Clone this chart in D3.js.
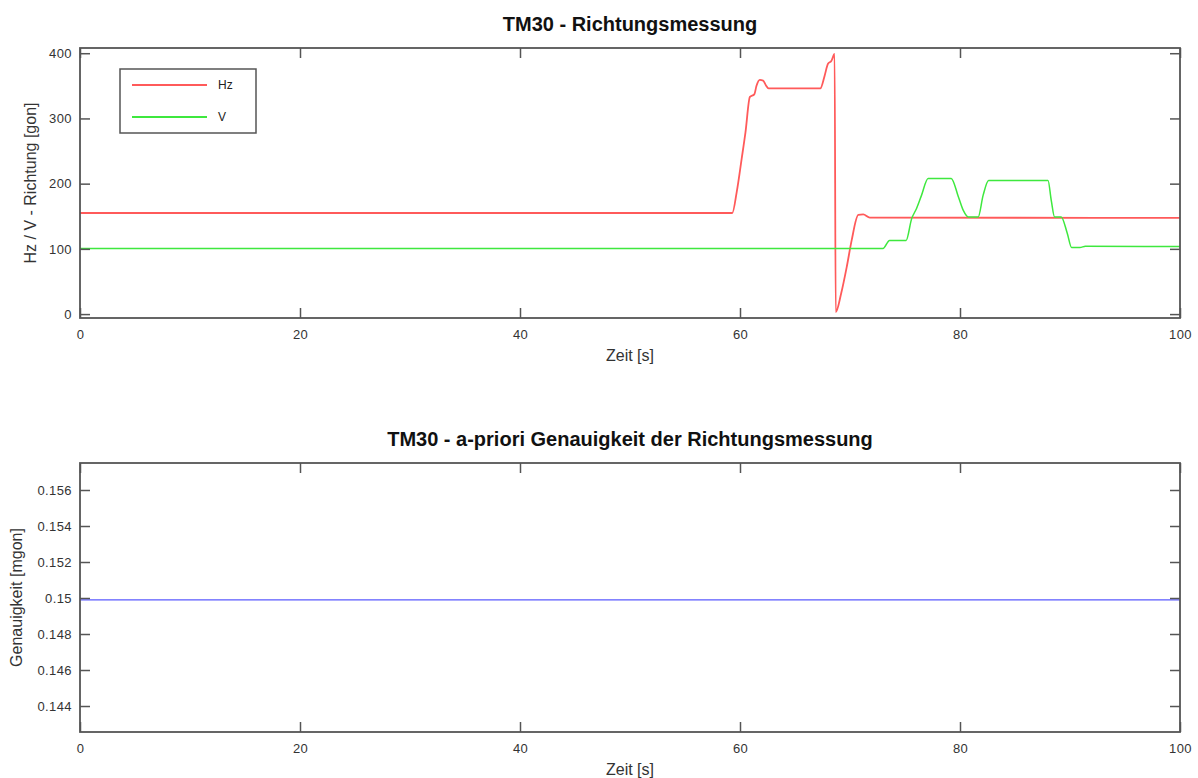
<!DOCTYPE html>
<html>
  <head>
    <meta charset="utf-8">
    <title>TM30 - Richtungsmessung</title>
    <script src="https://d3js.org/d3.v7.min.js"></script>
    <style>
      body { margin: 0; background: #fff; }
      svg { font-family: "Liberation Sans", Arial, sans-serif; }
      .tick text { fill: #333; font-size: 13px; letter-spacing: 0.4px; }
      .tick line { stroke: #555; stroke-width: 1.5; }
      .domain { display: none; }
    </style>
  </head>
  <body>
  <svg id="chart" width="1198" height="778"></svg>
  <script>
    // Richtungsmessung (Zeit [s] -> Richtung [gon])
    var hzTime  = [0, 59.3, 59.7, 60.15, 60.5, 60.9, 61.3, 61.5, 61.8, 62.1, 62.35, 62.6, 67.3, 67.7, 68.0, 68.3, 68.6, 68.7, 69.2, 69.7, 70.15, 70.75, 71.2, 71.8, 100];
    var hzValue = [155, 155, 187, 238, 279, 333, 337, 350, 359, 358, 351, 346, 346, 366, 384, 388, 399, 3, 32, 72, 113, 152, 153, 148, 147.5];

    var vTime  = [0, 73.0, 73.6, 75.1, 75.6, 76.05, 76.5, 77.1, 79.2, 79.85, 80.3, 80.75, 81.65, 82.1, 82.6, 88.0, 88.3, 88.6, 89.2, 89.75, 90.15, 90.9, 91.4, 100];
    var vValue = [100.5, 100.5, 113, 113, 146, 162, 182, 208, 208, 180, 159, 149, 149, 182, 205, 205, 174, 149, 149, 124, 102, 102, 104, 103.5];

    // a-priori Genauigkeit [mgon]
    var accTime  = [0, 100];
    var accValue = [0.1499, 0.1499];

    var xTicks = [0, 20, 40, 60, 80, 100];
    var yTicksTop = [0, 100, 200, 300, 400];
    var yTicksBottom = [0.144, 0.146, 0.148, 0.15, 0.152, 0.154, 0.156];

    var legendNames = ["Hz", "V"];
    var colors = { Hz: "#ff5a5a", V: "#3ee83e", acc: "#5a5aff" };

    var svg = d3.select("#chart");
    var left = 80, right = 1180;

    function drawPanel(opt) {
      var x = d3.scaleLinear().domain([0, 100]).range([left, right]);
      var y = d3.scaleLinear().domain(opt.yDomain).range([opt.bottom, opt.top]);
      var g = svg.append("g");

      // Linien
      opt.series.forEach(function (s) {
        var pts = s.t.map(function (t, i) { return [t, s.v[i]]; });
        g.append("path")
          .attr("d", d3.line().x(function (d) { return x(d[0]); }).y(function (d) { return y(d[1]); })
                  .curve(d3.curveMonotoneX)(pts))
          .attr("fill", "none")
          .attr("stroke", s.color)
          .attr("stroke-width", s.width);
      });

      // Achsen mit nach innen zeigenden Ticks
      g.append("g").attr("transform", `translate(0,${opt.bottom})`)
        .call(d3.axisBottom(x).tickValues(xTicks).tickSize(-10).tickPadding(12));
      g.append("g").attr("transform", `translate(0,${opt.top})`)
        .call(d3.axisTop(x).tickValues(xTicks).tickSize(-10).tickFormat(""));
      g.append("g").attr("transform", `translate(${left},0)`)
        .call(d3.axisLeft(y).tickValues(opt.yTicks).tickSize(-10).tickPadding(8).tickFormat(opt.fmt));
      g.append("g").attr("transform", `translate(${right},0)`)
        .call(d3.axisRight(y).tickValues(opt.yTicks).tickSize(-10).tickFormat(""));

      g.append("rect")
        .attr("x", left).attr("y", opt.top)
        .attr("width", right - left).attr("height", opt.bottom - opt.top)
        .attr("fill", "none").attr("stroke", "#555").attr("stroke-width", 1.8);

      g.append("text")
        .attr("x", (left + right) / 2).attr("y", opt.top - 17)
        .attr("text-anchor", "middle")
        .style("font-size", "20px").style("font-weight", "bold").attr("fill", "#111")
        .text(opt.title);

      g.append("text")
        .attr("x", (left + right) / 2).attr("y", opt.bottom + 43)
        .attr("text-anchor", "middle")
        .style("font-size", "16px").attr("fill", "#333")
        .text("Zeit [s]");

      g.append("text")
        .attr("transform", `translate(${opt.ylabelX},${(opt.top + opt.bottom) / 2}) rotate(-90)`)
        .attr("text-anchor", "middle")
        .style("font-size", "16px").attr("fill", "#333")
        .text(opt.ylabel);
    }

    drawPanel({
      top: 48, bottom: 318, yDomain: [-6, 408], yTicks: yTicksTop,
      fmt: d3.format("d"),
      title: "TM30 - Richtungsmessung",
      ylabel: "Hz / V - Richtung [gon]", ylabelX: 36,
      series: [
        { t: hzTime, v: hzValue, color: colors.Hz, width: 1.8 },
        { t: vTime, v: vValue, color: colors.V, width: 1.5 }
      ]
    });

    drawPanel({
      top: 463, bottom: 732, yDomain: [0.142556, 0.1575], yTicks: yTicksBottom,
      fmt: d3.format(".3~f"),
      title: "TM30 - a-priori Genauigkeit der Richtungsmessung",
      ylabel: "Genauigkeit [mgon]", ylabelX: 22,
      series: [
        { t: accTime, v: accValue, color: colors.acc, width: 1.2 }
      ]
    });

    // Legende
    var legend = svg.append("g");
    legend.append("rect")
      .attr("x", 120).attr("y", 69).attr("width", 136).attr("height", 64)
      .attr("fill", "#fff").attr("stroke", "#555").attr("stroke-width", 1.5);
    legendNames.forEach(function (name, i) {
      var ly = 85 + i * 32;
      legend.append("line")
        .attr("x1", 132).attr("x2", 207).attr("y1", ly).attr("y2", ly)
        .attr("stroke", colors[name]).attr("stroke-width", 1.8);
      legend.append("text")
        .attr("x", 218).attr("y", ly).attr("dy", "0.35em")
        .style("font-size", "12px").attr("fill", "#222")
        .text(name);
    });
  </script>
  </body>
</html>
